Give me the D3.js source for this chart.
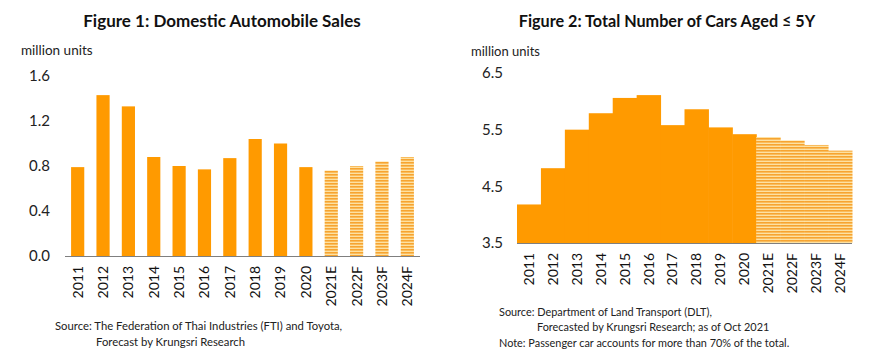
<!DOCTYPE html>
<html><head><meta charset="utf-8">
<script src="https://cdn.jsdelivr.net/npm/d3@7"></script>
<style>
body{margin:0;background:#fff;}
svg{display:block;font-family:Lato, "Open Sans", sans-serif;}
</style></head>
<body><svg id="c" width="875" height="357"></svg>
<script>
const categories = ["2011","2012","2013","2014","2015","2016","2017","2018","2019","2020","2021E","2022F","2023F","2024F"];
const forecastFlags = [0,0,0,0,0,0,0,0,0,0,1,1,1,1];
const salesValues = [0.79,1.43,1.33,0.88,0.80,0.77,0.87,1.04,1.00,0.79,0.76,0.80,0.84,0.88];
const salesTicks = [0.0,0.4,0.8,1.2,1.6];
const carsValues = [4.18,4.82,5.50,5.79,6.06,6.11,5.58,5.86,5.54,5.42,5.37,5.31,5.23,5.13];
const carsTicks = [3.5,4.5,5.5,6.5];

const svg = d3.select("#c");
const ORANGE = "#FF9A00";
const defs = svg.append("defs");
const pat = defs.append("pattern").attr("id","hatch").attr("patternUnits","userSpaceOnUse")
  .attr("width",4).attr("height",3);
pat.append("rect").attr("width",4).attr("height",3).attr("fill","#FDE1A2");
pat.append("rect").attr("width",4).attr("height",1.6).attr("fill","#F7A430");

function chart(opt){
  const g = svg.append("g");
  const x = d3.scaleBand().domain(categories).range([opt.x0,opt.x1]).paddingInner(opt.padIn).paddingOuter(opt.padOut);
  const y = d3.scaleLinear().domain(opt.domain).range([opt.yBase,opt.yTop]);
  g.append("text").attr("x",opt.titleX).attr("y",opt.titleY).attr("text-anchor","middle")
    .attr("font-weight","bold").attr("font-size",opt.titleSize).attr("fill","#111").text(opt.title);
  g.append("text").attr("x",opt.unitX).attr("y",opt.unitY).attr("font-size",opt.unitSize).attr("fill","#222").text("million units");
  g.selectAll("rect.bar").data(opt.values).join("rect")
    .attr("x",(d,i)=>x(categories[i])).attr("width",x.bandwidth()+opt.extra)
    .attr("y",d=>y(d)).attr("height",d=>y(opt.domain[0])-y(d))
    .attr("fill",(d,i)=>forecastFlags[i]?"url(#hatch)":ORANGE);
  const ax = d3.axisBottom(x).tickSize(0).tickPadding(0);
  const axg = g.append("g").attr("transform",`translate(0,${opt.yBase})`).call(ax);
  axg.select(".domain").attr("stroke","#7f7f7f").attr("stroke-width",1.2)
     .attr("d",`M${opt.axisX0},0.5H${opt.axisX1}`);
  axg.selectAll(".tick text").attr("font-size",opt.xFont).attr("fill","#111")
    .attr("font-family","Lato, sans-serif")
    .attr("transform","rotate(-90)").attr("text-anchor","end")
    .attr("x",-opt.xLabOff).attr("y",0).attr("dy","0.35em");
  const yax = d3.axisLeft(y).tickValues(opt.ticks).tickSize(0).tickPadding(0).tickFormat(d3.format(".1f"));
  const yg = g.append("g").attr("transform",`translate(${opt.yLabX},0)`).call(yax);
  yg.select(".domain").remove();
  yg.selectAll(".tick text").attr("font-size",15).attr("fill","#222").attr("font-family","Lato, sans-serif");
  opt.notes.forEach(n=>{
    g.append("text").attr("x",n[0]).attr("y",n[1]).attr("font-size",opt.noteSize).attr("fill","#222").text(n[2]);
  });
}

chart({title:"Figure 1: Domestic Automobile Sales", titleX:222, titleY:27, titleSize:17,
  unitX:21, unitY:55, unitSize:13.5, x0:65, x1:420, padIn:0.48, padOut:0.24, extra:0,
  domain:[0,1.6], yBase:256, yTop:76, ticks:salesTicks, yLabX:50,
  axisX0:65, axisX1:420, xFont:14, xLabOff:10, noteSize:11.3,
  values:salesValues,
  notes:[[55,330,"Source: The Federation of Thai Industries (FTI) and Toyota,"],[96,346,"Forecast by Krungsri Research"]]});

chart({title:"Figure 2: Total Number of Cars Aged \u2264 5Y", titleX:667, titleY:27, titleSize:16.2,
  unitX:471, unitY:56, unitSize:13, x0:517, x1:852, padIn:0, padOut:0, extra:0.5,
  domain:[3.5,6.5], yBase:243, yTop:73, ticks:carsTicks, yLabX:503,
  axisX0:517, axisX1:852, xFont:14, xLabOff:10, noteSize:10.9,
  values:carsValues,
  notes:[[499,316,"Source: Department of Land Transport (DLT),"],[537,331,"Forecasted by Krungsri Research; as of Oct 2021"],[499,347,"Note: Passenger car accounts for more than 70% of the total."]]});
</script></body></html>
